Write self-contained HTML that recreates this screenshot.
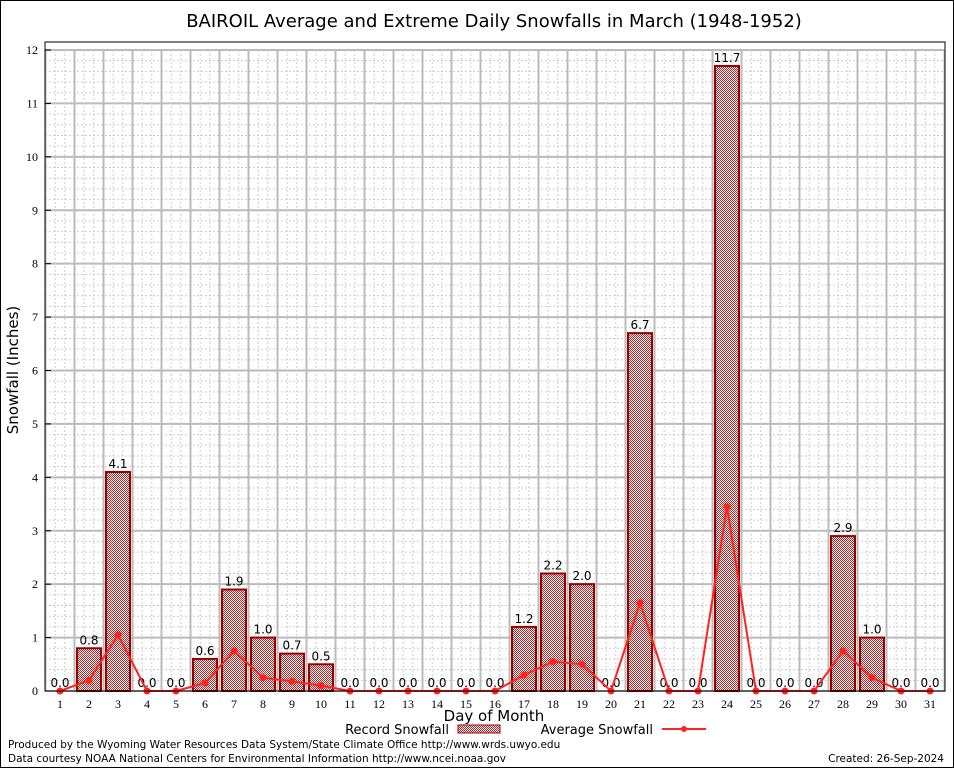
<!DOCTYPE html>
<html><head><meta charset="utf-8"><style>
body{margin:0;background:#fff;font-family:"DejaVu Sans","Liberation Sans",sans-serif}
</style></head><body>
<svg id="chart" width="954" height="768" xmlns="http://www.w3.org/2000/svg">
<defs>
<pattern id="hatch" width="2" height="2" patternUnits="userSpaceOnUse">
<rect width="2" height="2" fill="#fff" shape-rendering="crispEdges"/><rect width="1" height="1" fill="#b52020" shape-rendering="crispEdges"/><rect x="1" y="1" width="1" height="1" fill="#b52020" shape-rendering="crispEdges"/>
</pattern>
</defs>
<rect x="0.5" y="0.5" width="953" height="767" fill="#fff" stroke="#000"/>
<text x="494" y="27" text-anchor="middle" font-size="18">BAIROIL Average and Extreme Daily Snowfalls in March (1948-1952)</text>
<g id="grid"></g>
<g id="bars"></g>
<g id="line"></g>
<g id="axes"></g>
<text x="18" y="370" font-size="15" text-anchor="middle" transform="rotate(-90 18 370)">Snowfall (Inches)</text>
<text x="494" y="721" font-size="15" text-anchor="middle">Day of Month</text>
<g>
<text x="449" y="734" font-size="13" text-anchor="end">Record Snowfall</text>
<rect x="458" y="725" width="42" height="8" fill="url(#hatch)" stroke="#900"/>
<text x="653" y="734" font-size="13" text-anchor="end">Average Snowfall</text>
<line x1="662" y1="729" x2="706" y2="729" stroke="#f22" stroke-width="2"/>
<circle cx="684" cy="729" r="3" fill="#f22"/>
</g>
<text x="8" y="748" font-size="10.5">Produced by the Wyoming Water Resources Data System/State Climate Office http://www.wrds.uwyo.edu</text>
<text x="8" y="762" font-size="10.5">Data courtesy NOAA National Centers for Environmental Information http://www.ncei.noaa.gov</text>
<text x="944" y="762" font-size="10.5" text-anchor="end">Created: 26-Sep-2024</text>
</svg>
<script>
const days=[1,2,3,4,5,6,7,8,9,10,11,12,13,14,15,16,17,18,19,20,21,22,23,24,25,26,27,28,29,30,31];
const recordValues=[0,0.8,4.1,0,0,0.6,1.9,1.0,0.7,0.5,0,0,0,0,0,0,1.2,2.2,2.0,0,6.7,0,0,11.7,0,0,0,2.9,1.0,0,0];
const averageValues=[0,0.2,1.05,0,0,0.15,0.75,0.25,0.18,0.1,0,0,0,0,0,0,0.3,0.55,0.5,0,1.65,0,0,3.45,0,0,0,0.75,0.25,0,0];
const yTicks=[0,1,2,3,4,5,6,7,8,9,10,11,12];
const NS="http://www.w3.org/2000/svg";
const L=45,R=945,T=50,B=691;
function xs(d){return 60+(d-1)*29;}
function ys(v){return B-(v/12)*(B-T);}
function mk(tag,attrs,parent,txt){const e=document.createElementNS(NS,tag);for(const k in attrs)e.setAttribute(k,attrs[k]);if(txt!==undefined)e.textContent=txt;parent.appendChild(e);return e;}
const grid=document.getElementById('grid'),bars=document.getElementById('bars'),line=document.getElementById('line'),axes=document.getElementById('axes');
for(let v=0;v<=12.001;v+=0.2){const y=ys(v);const major=Math.abs(v-Math.round(v))<0.01;
const g=mk('line',{x1:L,x2:R,y1:y,y2:y,stroke:major?'#bbb':'#ccc','stroke-width':major?2:1,'stroke-dasharray':major?'':'2,2'},grid);

}
for(let i=0;i<=31;i++){const x=xs(1)-14.5+i*29;
const g=mk('line',{x1:x,x2:x,y1:T,y2:B,stroke:'#bbb','stroke-width':2},grid);


if(i<31){for(const o of [9.7,19.3]){const d=mk('line',{x1:x+o,x2:x+o,y1:T,y2:B,stroke:'#ccc','stroke-dasharray':'2,2'},grid);

}}}
days.forEach((d,i)=>{const v=recordValues[i];const x=xs(d);
if(v>0){const r=mk('rect',{x:x-12,y:ys(v),width:24,height:B-ys(v),fill:'url(#hatch)',stroke:'#900','stroke-width':2},bars);

}
const t=mk('text',{x:x,y:ys(v)-4,'font-size':12,'text-anchor':'middle'},bars,v.toFixed(1));

});
const pts=days.map((d,i)=>xs(d)+','+ys(averageValues[i])).join(' ');
const pl=mk('polyline',{points:pts,fill:'none',stroke:'#f22','stroke-width':2},line);


days.forEach((d,i)=>{const c=mk('circle',{cx:xs(d),cy:ys(averageValues[i]),r:3.5,fill:'#f22'},line);

});
const fr=mk('rect',{x:L,y:T-8,width:R-L,height:B-T+8,fill:'none',stroke:'#000'},axes);


yTicks.forEach(v=>{const t=mk('text',{x:38,y:ys(v)+4,'font-size':12,'text-anchor':'end','font-family':'Liberation Serif, serif'},axes,String(v));


const k=mk('line',{x1:L,x2:L+6,y1:ys(v),y2:ys(v),stroke:'#000'},axes);

});
days.forEach(d=>{const t=mk('text',{x:xs(d),y:708,'font-size':12,'text-anchor':'middle','font-family':'Liberation Serif, serif'},axes,String(d));

});
</script>
</body></html>
